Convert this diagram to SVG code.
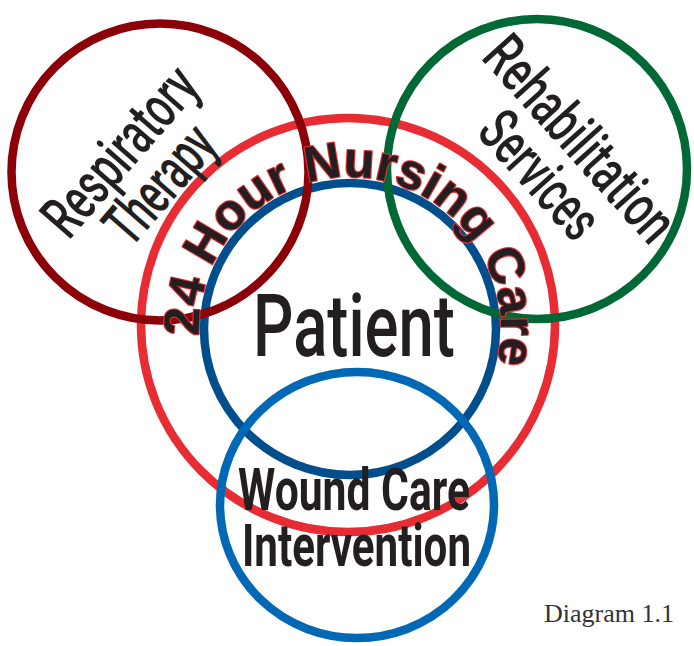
<svg xmlns="http://www.w3.org/2000/svg" width="694" height="646" viewBox="0 0 694 646">
  <style>
    .ring { fill: none; stroke-width: 8.5; }
    .label { fill: #231f20; font-family: Roboto, "Liberation Sans", sans-serif; }
    .side { font-size: 60px; font-weight: 500; }
    .core { font-size: 87px; font-weight: 500; }
    .wound { font-size: 59px; font-weight: 700; }
    .arc { font-family: "Liberation Sans", Arial, sans-serif; font-size: 50px; font-weight: 700; fill: #231f20; stroke: #e82c33; stroke-width: 2.2; paint-order: stroke; stroke-linejoin: round; }
    .caption { fill: #333333; font-family: "Liberation Serif", "Times New Roman", serif; font-size: 26px; }
  </style>
  <defs>
    <!-- baseline arc for the nursing ring label, clockwise from the left side -->
    <path id="nursingArc" d="M 199.2 335.9 A 151 151 0 1 1 496.3 365.3"/>
  </defs>
  <rect width="694" height="646" fill="#ffffff"/>

  <g id="nursing-care">
    <circle class="ring" cx="348" cy="325" r="207" stroke="#e82c33"/>
  </g>
  <g id="patient">
    <circle class="ring" cx="350" cy="329" r="146" stroke="#004f8c"/>
  </g>
  <g id="wound-care">
    <ellipse class="ring" cx="357" cy="505" rx="137" ry="133" stroke="#0068b4"/>
  </g>
  <g id="respiratory">
    <circle class="ring" cx="160" cy="172" r="148.5" stroke="#8c0008"/>
  </g>
  <g id="rehabilitation">
    <circle class="ring" cx="537" cy="169" r="150" stroke="#006835"/>
  </g>

  <g id="connectors"></g>

  <g id="labels">
    <g transform="translate(135.3,164.3) rotate(-49)">
      <text class="label side" x="-101.5" y="0" textLength="203" lengthAdjust="spacingAndGlyphs">Respiratory</text>
      <text class="label side" x="-66.9" y="52" textLength="136" lengthAdjust="spacingAndGlyphs">Therapy</text>
    </g>
    <g transform="translate(565,152.4) rotate(48)">
      <text class="label side" x="-127" y="0" textLength="254" lengthAdjust="spacingAndGlyphs">Rehabilitation</text>
      <text class="label side" x="-74.5" y="54" textLength="149" lengthAdjust="spacingAndGlyphs">Services</text>
    </g>
    <text class="arc"><textPath href="#nursingArc" textLength="518" lengthAdjust="spacingAndGlyphs">24 Hour Nursing Care</textPath></text>
    <text class="label core" x="253" y="356" textLength="202" lengthAdjust="spacingAndGlyphs">Patient</text>
    <text class="label wound" x="238" y="510" textLength="232" lengthAdjust="spacingAndGlyphs">Wound Care</text>
    <text class="label wound" x="242" y="566" textLength="229" lengthAdjust="spacingAndGlyphs">Intervention</text>
    <text class="caption" x="544" y="622">Diagram 1.1</text>
  </g>
</svg>
